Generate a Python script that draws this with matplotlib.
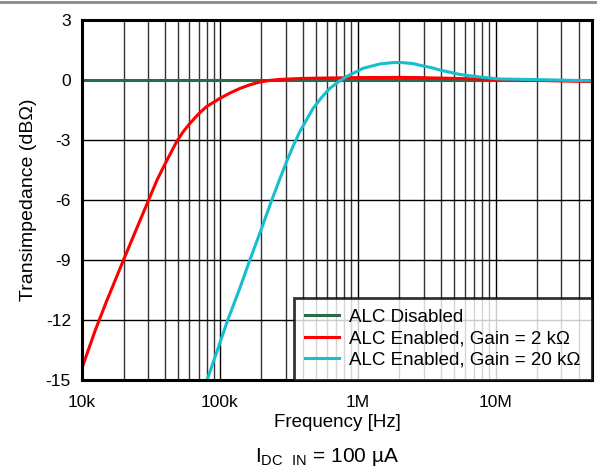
import matplotlib
matplotlib.use("Agg")
import matplotlib.pyplot as plt
from matplotlib.lines import Line2D
import numpy as np

plt.rcParams['font.family'] = ['Liberation Sans', 'DejaVu Sans']
plt.rcParams['mathtext.fontset'] = 'custom'
plt.rcParams['mathtext.rm'] = 'Liberation Sans'

# Data (frequency in Hz, transimpedance change in dBOhm)
f_dis = [1e4, 1e5, 1e6, 1e7, 5e7]
y_dis = [0.0, 0.0, 0.0, 0.0, 0.0]

f_2k = [1e4, 1.25e4, 1.5e4, 2e4, 2.5e4, 3e4, 3.5e4, 4e4, 4.86e4, 5.4e4, 6.06e4, 7e4, 8e4, 1e5,
        1.2e5, 1.4e5, 1.65e5, 1.95e5, 2.3e5, 2.72e5, 4e5, 6e5, 1e6, 2e6, 2.8e6, 5e6, 1.07e7,
        2e7, 5e7]
y_2k = [-14.4, -12.5, -11.1, -9.0, -7.4, -6.1, -5.0, -4.2, -3.08, -2.6, -2.17, -1.7, -1.33, -0.92,
        -0.63, -0.42, -0.24, -0.1, -0.02, 0.03, 0.08, 0.1, 0.12, 0.13, 0.12, 0.08, 0.02,
        -0.02, -0.08]

f_20k = [7.8e4, 9.5e4, 1.14e5, 1.38e5, 1.65e5, 2e5, 2.38e5, 2.72e5, 3.04e5, 3.4e5, 3.8e5, 4.74e5,
         5.5e5, 6.27e5, 7.2e5, 8.28e5, 1.09e6, 1.44e6, 1.8e6, 2.1e6, 2.52e6, 2.81e6, 3.51e6,
         3.93e6, 5.48e6, 7.66e6, 1.07e7, 1.96e7, 5e7]
y_20k = [-15.3, -13.6, -12.0, -10.5, -9.0, -7.45, -6.0, -4.95, -4.1, -3.3, -2.58, -1.42,
         -0.85, -0.42, -0.1, 0.17, 0.58, 0.8, 0.87, 0.87, 0.82, 0.74, 0.6,
         0.5, 0.28, 0.15, 0.05, 0.02, -0.04]

labels = ['ALC Disabled', 'ALC Enabled, Gain = 2 k\u03a9', 'ALC Enabled, Gain = 20 k\u03a9']
colors = ['#2a6b4a', '#ff0000', '#17becf']

xticks = [1e4, 1e5, 1e6, 1e7]
xticklabels = ['10k', '100k', '1M', '10M']
yticks = [3, 0, -3, -6, -9, -12, -15]

fig = plt.figure(figsize=(5.97, 4.70), dpi=100)
ax = fig.add_axes([82/597, 90/470, 510/597, 360/470])

ax.plot(f_dis, y_dis, color=colors[0], lw=2.2, label=labels[0], zorder=3)
ax.plot(f_2k, y_2k, color=colors[1], lw=2.2, label=labels[1], zorder=4)
ax.plot(f_20k, y_20k, color=colors[2], lw=2.2, label=labels[2], zorder=5)

ax.set_xscale('log')
ax.set_xlim(1e4, 5e7)
ax.set_ylim(-15, 3)
ax.set_xticks(xticks)
ax.set_xticklabels(xticklabels)
ax.set_yticks(yticks)
ax.set_yticklabels([str(v) for v in yticks])
ax.xaxis.set_minor_locator(matplotlib.ticker.LogLocator(base=10, subs=np.arange(2, 10)))
ax.xaxis.set_minor_formatter(matplotlib.ticker.NullFormatter())
ax.tick_params(axis='both', which='both', length=0, labelsize=12.5)
ax.tick_params(axis='x', pad=11)
ax.tick_params(axis='y', pad=8)

ax.grid(True, which='major', color='#000000', lw=1.0, zorder=1)
ax.grid(True, which='minor', axis='x', color='#333333', lw=1.0, zorder=1)
for s in ax.spines.values():
    s.set_linewidth(2.2)
    s.set_color('black')
    s.set_zorder(6)

ax.set_xlabel('Frequency [Hz]', fontsize=13.5, labelpad=3)
ax.set_ylabel('Transimpedance (dB\u03a9)', fontsize=14, labelpad=6)

leg = ax.legend(loc='lower right', fontsize=13.5, frameon=True, fancybox=False,
                borderaxespad=0, handlelength=1.8, handletextpad=0.55,
                labelspacing=0.23, borderpad=0.6)
leg.get_frame().set_edgecolor('black')
leg.get_frame().set_linewidth(2.0)
leg.set_zorder(7)

fig.text(327/597, 1 - 457/470, '$\\mathregular{I_{DC\\ \\ IN}}$ = 100 \u00b5A',
         ha='center', va='center', fontsize=15)

fig.add_artist(Line2D([0, 1], [1 - 2/470, 1 - 2/470], color='#888888', lw=2, transform=fig.transFigure))

fig.savefig('out.png', dpi=100)
